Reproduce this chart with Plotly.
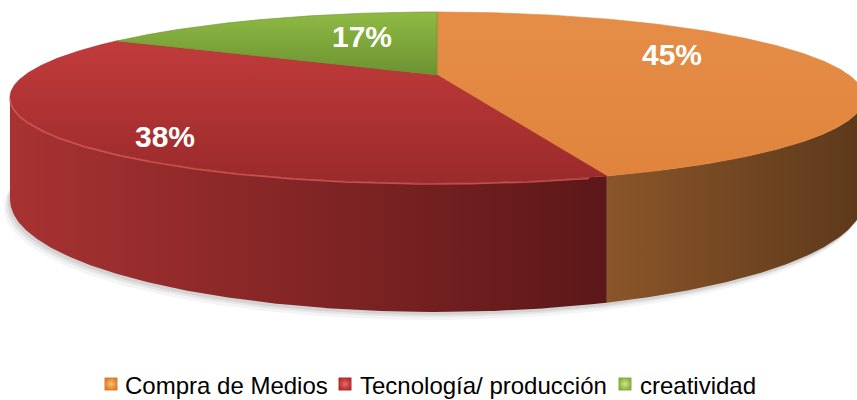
import math
import numpy as np
import plotly.graph_objects as go

# ---------------- data ----------------
categories = ["Compra de Medios", "Tecnología/ producción", "creatividad"]
values = [45, 38, 17]  # percent

# ---------------- style ----------------
# vertical gradients: [bottom colour, top colour]
TOP_COLORS = [["#E0843D", "#E58D47"], ["#9A2A2B", "#C23B3B"], ["#6C9231", "#8FBA45"]]
SIDE_COLORS = [["#8B5529", "#5C391B"], ["#A83232", "#5C1718"], ["#6C9231", "#4E6B22"]]
LEGEND_OUTER = ["#E07A2E", "#B32A2A", "#84AE3C"]
LEGEND_INNER = ["#F7C46A", "#E86A6A", "#CFE78C"]
LABEL_POS = [(672, 54), (165, 136), (362, 36)]
LEGEND_MARKER_X = [111, 345, 625]
LEGEND_TEXT_X = [123, 358, 638]
LEGEND_Y = 384
FONT = "Liberation Sans, Arial, sans-serif"

# projection parameters (pixel layout of the tilted disk)
CX, CY, A, B, P, H = 437.0, 75.0, 412.0, 79.6, 0.263, 95.0


def proj(theta_deg, r=1.0, h=0.0):
    t = np.radians(theta_deg)
    u = r * np.sin(t)
    v = r * np.cos(t)
    s = 1.0 / (1.0 + P * v)
    return CX + A * u * s, CY - B * v * s + H * h * s


# silhouette angles (rightmost / leftmost of rim)
grid = np.linspace(0, 360, 3601)
gx, _ = proj(grid)
theta_right = grid[np.argmax(gx)]
theta_left = grid[np.argmin(gx)]

fig = go.Figure()

# soft shadow under the disk
for dx, dy, alpha in [(-6, 8, 0.06), (-4, 5, 0.08), (-2, 3, 0.10)]:
    th = np.linspace(0, 360, 361)
    bx, by = proj(th, h=1.0)
    fig.add_trace(go.Scatter(x=bx + dx, y=by + dy, mode="lines", fill="toself",
                             fillcolor=f"rgba(60,60,60,{alpha})", line=dict(width=0),
                             hoverinfo="skip"))

total = float(sum(values))
starts = np.cumsum([0] + values[:-1]) / total * 360.0
ends = np.cumsum(values) / total * 360.0

# side walls
for i in range(len(values)):
    a0 = max(starts[i], theta_right)
    a1 = min(ends[i], theta_left)
    if a1 <= a0:
        continue
    th = np.linspace(a0, a1, 200)
    tx, ty = proj(th, h=0.0)
    bx, by = proj(th[::-1], h=1.0)
    xs = np.concatenate([tx, bx, tx[:1]])
    ys = np.concatenate([ty, by, ty[:1]])
    fig.add_trace(go.Scatter(
        x=xs, y=ys, mode="lines", fill="toself", line=dict(width=0),
        fillgradient=dict(type="horizontal",
                          colorscale=[[0, SIDE_COLORS[i][0]], [1, SIDE_COLORS[i][1]]]),
        hoverinfo="skip"))

# top faces
for i in range(len(values)):
    th = np.linspace(starts[i], ends[i], 300)
    tx, ty = proj(th)
    cx0, cy0 = proj(0.0, r=0.0)
    xs = np.concatenate([[cx0], tx, [cx0]])
    ys = np.concatenate([[cy0], ty, [cy0]])
    fig.add_trace(go.Scatter(
        x=xs, y=ys, mode="lines", fill="toself",
        line=dict(width=0.6, color=TOP_COLORS[i][0]),
        fillgradient=dict(type="vertical",
                          colorscale=[[0, TOP_COLORS[i][0]], [1, TOP_COLORS[i][1]]]),
        hoverinfo="skip"))

# rim highlight on the red slice
th = np.linspace(max(starts[1], theta_right) + 2, min(ends[1], theta_left), 200)
rx, ry = proj(th)
fig.add_trace(go.Scatter(x=rx, y=ry + 1, mode="lines",
                         line=dict(width=1.5, color="rgba(220,90,88,0.8)"),
                         hoverinfo="skip"))

# percentage labels
for i, v in enumerate(values):
    fig.add_annotation(x=LABEL_POS[i][0], y=LABEL_POS[i][1], text=f"<b>{v}%</b>",
                       showarrow=False, xanchor="center", yanchor="middle",
                       font=dict(family=FONT, size=30, color="white"))

# legend (markers + text)
for i, name in enumerate(categories):
    fig.add_trace(go.Scatter(
        x=[LEGEND_MARKER_X[i]], y=[LEGEND_Y], mode="markers",
        marker=dict(symbol="square", size=13, color=LEGEND_OUTER[i],
                    gradient=dict(type="radial", color=LEGEND_INNER[i]),
                    line=dict(width=0)),
        hoverinfo="skip"))
    fig.add_annotation(x=LEGEND_TEXT_X[i], y=LEGEND_Y + 1, text=name, showarrow=False,
                       xanchor="left", yanchor="middle",
                       font=dict(family=FONT, size=24, color="black"))

fig.update_layout(
    width=857, height=400, autosize=False,
    margin=dict(l=0, r=0, t=0, b=0),
    paper_bgcolor="white", plot_bgcolor="white",
    showlegend=False,
    xaxis=dict(range=[0, 857], visible=False, fixedrange=True),
    yaxis=dict(range=[400, 0], visible=False, fixedrange=True),
)

fig.write_html("out.html", config={"displayModeBar": False},
               post_script="document.body.style.margin='0';document.body.style.overflow='hidden';")
